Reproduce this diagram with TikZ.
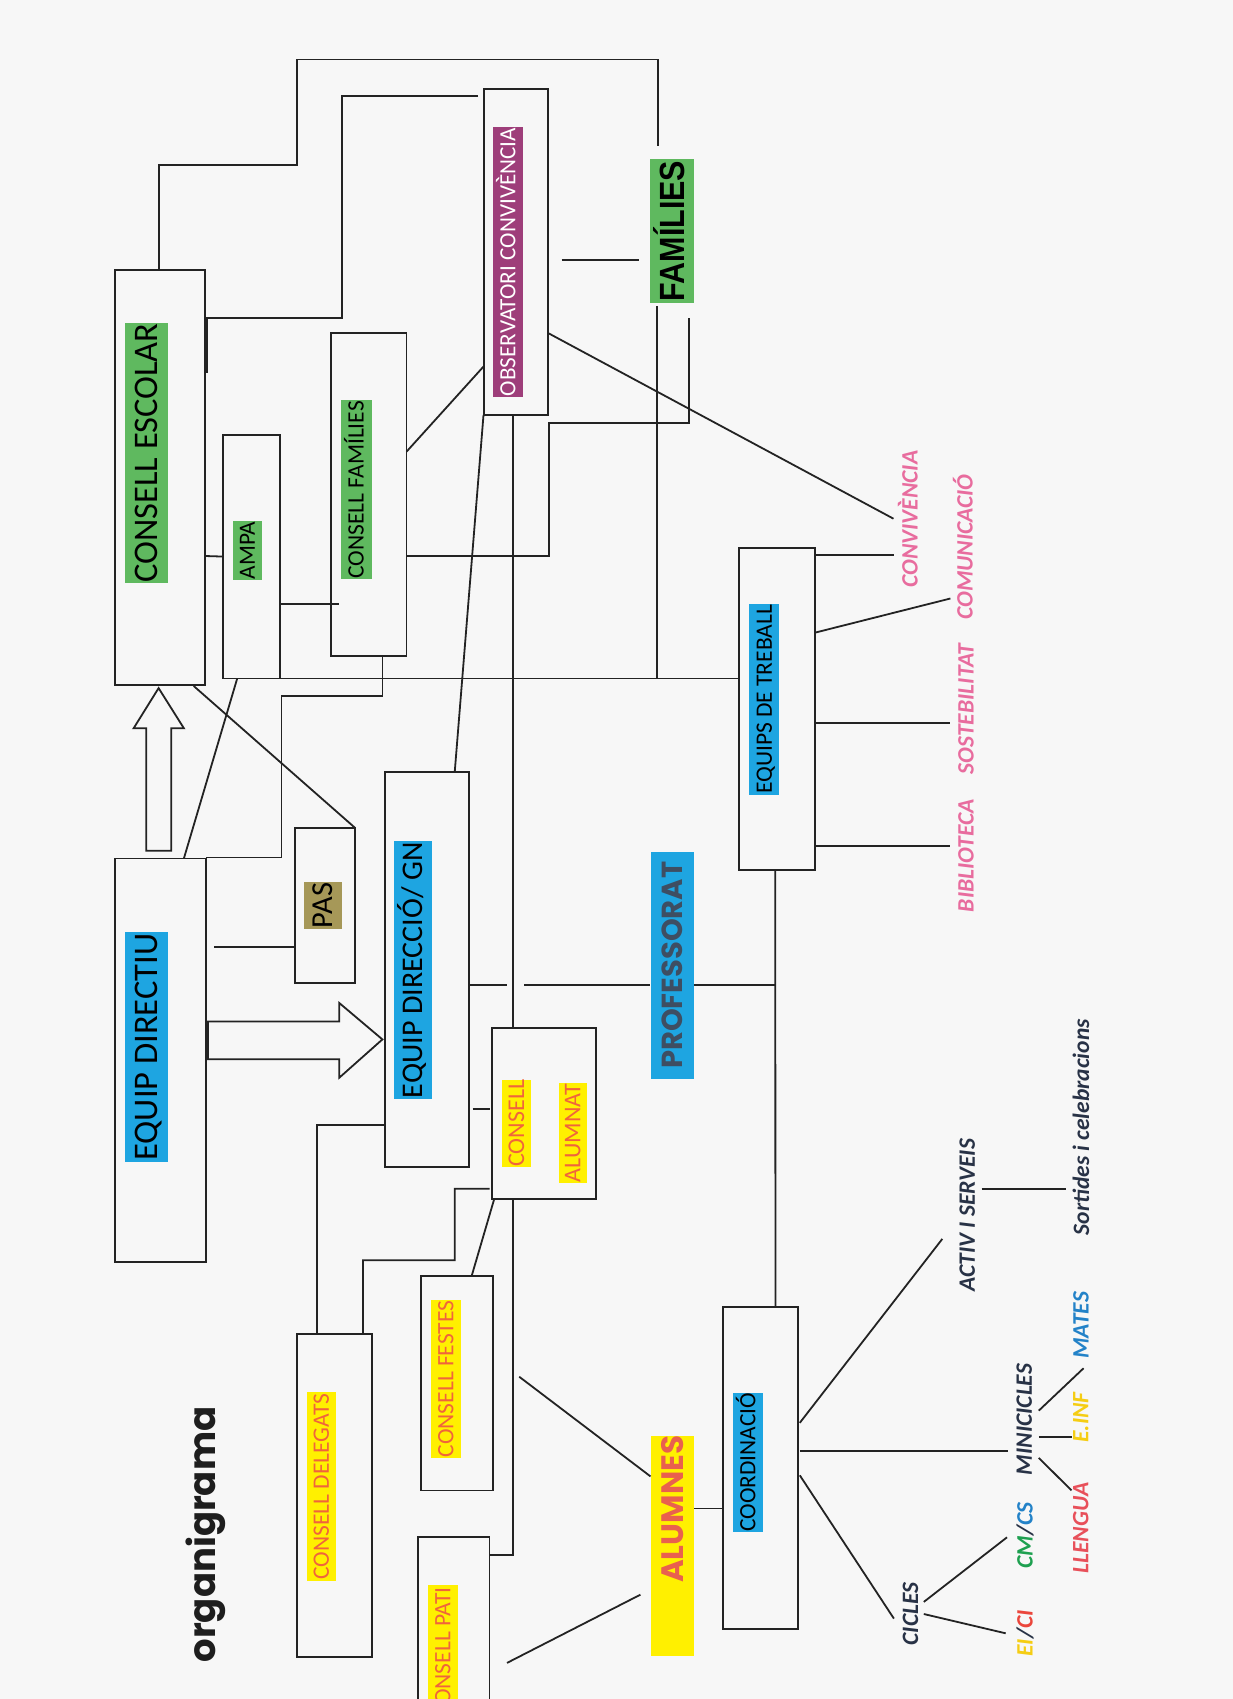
\documentclass[tikz,border=0pt]{standalone}
\usepackage{fontspec}
\setmainfont{Carlito}
\newfontfamily\popfont{Poppins}
\newfontfamily\arialfont{Liberation Sans}
\newcommand\fsz[1]{\fontsize{#1pt}{#1pt}\selectfont}
\definecolor{pagebg}{RGB}{247,247,247}
\definecolor{linec}{RGB}{35,35,35}
\definecolor{hgreen}{RGB}{95,185,95}
\definecolor{hblue}{RGB}{30,165,225}
\definecolor{hpurple}{RGB}{158,62,122}
\definecolor{hyellow}{RGB}{255,240,0}
\definecolor{holive}{RGB}{166,152,88}
\definecolor{orangetext}{RGB}{240,100,60}
\definecolor{alumtext}{RGB}{233,96,78}
\definecolor{proftext}{RGB}{62,78,98}
\definecolor{pinktext}{RGB}{232,108,158}
\definecolor{navytext}{RGB}{40,50,70}
\definecolor{cmgreen}{RGB}{30,160,80}
\definecolor{csblue}{RGB}{35,130,200}
\definecolor{eiyellow}{RGB}{245,205,20}
\definecolor{cired}{RGB}{235,70,60}
\definecolor{llengred}{RGB}{232,80,90}
\definecolor{titlec}{RGB}{30,30,30}
\begin{document}
\begin{tikzpicture}[x=1pt,y=-1pt,
  box/.style={draw=linec, line width=1.8pt, inner sep=0pt, outer sep=0pt},
  conn/.style={draw=linec, line width=1.8pt},
  fatarrow/.style={draw=linec, line width=1.8pt, line join=miter},
  hl/.style={rotate=90, inner xsep=0pt, inner ysep=0pt, outer sep=0pt, text depth=0pt},
  itl/.style={rotate=90, inner sep=0pt, outer sep=0pt, text height=15pt, text depth=0pt, font=\bfseries\itshape\fsz{23.5}}]
\useasboundingbox (0,0) rectangle (1233,1699);
\clip (0,0) rectangle (1233,1699);
\fill[pagebg] (0,0) rectangle (1233,1699);

% boxes
\node[box, minimum width=90pt, minimum height=415pt] (ce) at (160,477.5) {};
\node[box, minimum width=64pt, minimum height=326pt] (obs) at (516,252) {};
\node[box, minimum width=75.5pt, minimum height=322.6pt] (cf) at (368.75,494.3) {};
\node[box, minimum width=57pt, minimum height=243.9pt] (ampa) at (251.1,556.55) {};
\node[box, minimum width=75.9pt, minimum height=322.2pt] (eqt) at (777.25,708.8) {};
\node[box, minimum width=90.6pt, minimum height=403.8pt] (ed) at (160.3,1060.3) {};
\node[box, minimum width=60.4pt, minimum height=155pt] (pas) at (324.8,905.3) {};
\node[box, minimum width=84.6pt, minimum height=394.6pt] (edgn) at (427,969.6) {};
\node[box, minimum width=103.6pt, minimum height=170.7pt] (ca) at (544.1,1113.35) {};
\node[box, minimum width=75pt, minimum height=322.4pt] (cd) at (334.5,1495.4) {};
\node[box, minimum width=72pt, minimum height=214.6pt] (cfe) at (457.1,1383.1) {};
\node[box, minimum width=71.5pt, minimum height=182.7pt] (cp) at (453.75,1628.65) {};
\node[box, minimum width=74.7pt, minimum height=321.7pt] (coord) at (760.45,1468.05) {};

% highlighted labels
\node[hl, fill=hgreen, minimum height=43.4pt, text height=21.8pt, font=\fsz{34.5}] (ceL) at (146.3,453) {\makebox[260pt]{CONSELL ESCOLAR}};
\node[hl, fill=hblue, minimum height=43pt, text height=21.8pt, font=\fsz{34.5}] (edL) at (146.5,1047) {\makebox[229.3pt]{EQUIP DIRECTIU}};
\node[hl, fill=hpurple, text=white, minimum height=30.5pt, text height=14.7pt, font=\fsz{23.2}] (obsL) at (508,262) {\makebox[270.7pt]{OBSERVATORI CONVIVÈNCIA}};
\node[hl, fill=hgreen, minimum height=43.2pt, text height=25pt, font=\arialfont\bfseries\fsz{35}] (famL) at (672,231) {\makebox[143.2pt]{\scalebox{0.87}[1]{FAMÍLIES}}};
\node[hl, fill=hgreen, minimum height=31pt, text height=14.9pt, font=\fsz{23.5}] (cfL) at (356.25,489.7) {\makebox[179.4pt]{CONSELL FAMÍLIES}};
\node[hl, fill=hgreen, minimum height=29pt, text height=14.7pt, font=\fsz{23.3}] (ampaL) at (247.5,550.6) {\makebox[59.2pt]{AMPA}};
\node[hl, fill=holive, minimum height=38.3pt, text height=19.3pt, font=\fsz{30.5}] (pasL) at (322.85,905.45) {\makebox[47.5pt]{PAS}};
\node[hl, fill=hblue, minimum height=38pt, text height=19pt, font=\fsz{30}] (edgnL) at (413.2,970) {\makebox[257.5pt]{EQUIP DIRECCIÓ/ GN}};
\node[hl, fill=hblue, text=proftext, minimum height=43.5pt, text height=20.5pt, font=\popfont\bfseries\fsz{29}] (profL) at (672.25,965.2) {\makebox[226.6pt]{PROFESSORAT}};
\node[hl, fill=hblue, minimum height=29.8pt, text height=14.9pt, font=\fsz{23.5}] (eqtL) at (764.3,699.4) {\makebox[190.2pt]{EQUIPS DE TREBALL}};
\node[hl, fill=hyellow, text=orangetext, minimum height=29pt, text height=15.2pt, font=\fsz{24}] (caL1) at (516.5,1123.25) {\makebox[87.3pt]{CONSELL}};
\node[hl, fill=hyellow, text=orangetext, minimum height=28.1pt, text height=15.2pt, font=\fsz{24}] (caL2) at (572.75,1132.75) {\makebox[100.1pt]{ALUMNAT}};
\node[hl, fill=hyellow, text=orangetext, minimum height=29.2pt, text height=14.9pt, font=\fsz{23.5}] (cdL) at (321.4,1486.5) {\makebox[189pt]{CONSELL DELEGATS}};
\node[hl, fill=hyellow, text=orangetext, minimum height=29.6pt, text height=14.9pt, font=\fsz{23.5}] (cfeL) at (445.8,1378.85) {\makebox[158.1pt]{CONSELL FESTES}};
\node[hl, fill=hyellow, text=orangetext, minimum height=29.3pt, text height=14.9pt, font=\fsz{23.5}] (cpL) at (442.85,1652.1) {\makebox[135pt]{CONSELL PATI}};
\node[hl, fill=hblue, minimum height=29.5pt, text height=14.8pt, font=\fsz{23.4}] (coordL) at (747.95,1462.15) {\makebox[139.3pt]{COORDINACIÓ}};
\node[hl, fill=hyellow, text=alumtext, minimum height=42.7pt, text height=21.7pt, font=\popfont\bfseries\fsz{31}] (alum) at (672.65,1545.65) {\makebox[219.7pt][r]{ALUMNES}};

% title
\node[rotate=90, inner sep=0pt, text height=20.5pt, text depth=0pt, text=titlec, font=\popfont\bfseries\fsz{37}] (title) at (205.6,1534.5) {organigrama};

% plain italic labels
\node[itl, text=pinktext] (conv) at (910,519) {CONVIVÈNCIA};
\node[itl, text=pinktext] (comu) at (965,547) {COMUNICACIÓ};
\node[itl, text=pinktext] (sost) at (966,709) {SOSTEBILITAT};
\node[itl, text=pinktext] (bib) at (966,855.5) {BIBLIOTECA};
\node[itl, text=navytext] (activ) at (967.4,1215.1) {ACTIV I SERVEIS};
\node[itl, text=navytext, text height=16.5pt] (sort) at (1080.8,1127.25) {Sortides i celebracions};
\node[itl, text=navytext] (mini) at (1024.3,1419.5) {MINICICLES};
\node[itl, text=csblue] (mates) at (1081.2,1325.3) {MATES};
\node[itl, text=eiyellow] (einf) at (1080.8,1417.5) {E.INF};
\node[itl, text=llengred] (lleng) at (1080.8,1528.1) {LLENGUA};
\node[itl, text=navytext] (cicles) at (910.5,1614) {CICLES};
\node[itl, text=navytext] (cmcs) at (1025,1535.5) {{\color{cmgreen}CM}/{\color{csblue}CS}};
\node[itl, text=navytext] (eici) at (1025,1633.3) {{\color{eiyellow}EI}/{\color{cired}CI}};

% helper coordinates
\coordinate (j1) at (657,678.5);
\coordinate (jp) at (775.3,984.7);
\coordinate (a1) at (519.2,1376.7);
\coordinate (a2) at (507,1662.9);

% connectors
\draw[conn] ([xshift=-1pt]ce.north) -- (159,165) -- (297,165) -- (297,59.6) -- (657.7,59.6) -- ([xshift=-14.3pt,yshift=85pt]famL.center);
\draw[conn] ([xshift=-6pt,yshift=156.3pt]obs.west) -- (341.6,95.7) -- (341.6,318) -- ([yshift=159.5pt]ce.east);
\draw[linec, line width=3.5pt] ([xshift=1pt,yshift=159.5pt]ce.east) -- ([xshift=1pt,yshift=104.5pt]ce.east);
\draw[conn] ([xshift=13.5pt,yshift=-7.6pt]obs.east) -- ([xshift=-33pt,yshift=-28.6pt]famL.center);
\draw[conn] ([yshift=-81pt]obs.east) -- ([xshift=-16.5pt,yshift=0.3pt]conv.center);
\draw[conn] ([yshift=-114pt]obs.west) -- ([yshift=42.6pt]cf.east);
\draw[conn] ([yshift=-61.7pt]cf.east) -- (549,556) -- (549,423) -- (689,423) -- ([xshift=17pt,yshift=-87pt]famL.center);
\draw[conn] ([xshift=-15pt,yshift=-75pt]famL.center) -- (j1);
\draw[conn] (ampa.south east) -- ([yshift=30.3pt]eqt.west);
\draw[conn] ([xshift=-32.5pt]obs.south) -- ([xshift=27.7pt]edgn.north);
\draw[conn] ([xshift=-3.2pt]obs.south) -- ([xshift=-31.3pt]ca.north);
\draw[conn] ([yshift=-47.45pt]ampa.east) -- ([xshift=8pt,yshift=-109.7pt]cf.west);
\draw[conn] ([yshift=-78.5pt]ce.east) -- (ampa.west);
\draw[conn] ([xshift=13.65pt]cf.south) -- (382.4,696.1) -- (281.5,696.1) -- (281.5,857.5) -- ([yshift=0.9pt]ed.north east);
\draw[conn] ([xshift=23.6pt]ed.north) -- ([xshift=-13.9pt]ampa.south);
\draw[conn] ([xshift=33.7pt,yshift=-1pt]ce.south) -- (pas.north east);
% hollow arrows
\draw[fatarrow] (146.3,850.8) -- (146.3,728.3) -- (133.6,728.3) -- (158.6,688.1) -- (183.9,728.3) -- (171.2,728.3) -- (171.2,850.8) -- cycle;
\draw[fatarrow] (205.6,1021.4) -- (339.3,1021.4) -- (339.3,1003) -- (382.4,1039.4) -- (339.3,1077.7) -- (339.3,1059.3) -- (205.6,1059.3);
\draw[linec, line width=3pt] (207,1021.4) -- (207,1059.3);
\draw[conn] ([xshift=8.4pt,yshift=113.5pt]ed.east) -- ([yshift=-41.5pt]pas.west);
\draw[conn] ([yshift=-15.1pt]edgn.east) -- ++(37.7,0);
\draw[conn] ([xshift=-148.25pt,yshift=-19.5pt]profL.center) -- ([xshift=-22.25pt,yshift=-19.5pt]profL.center);
\draw[conn] ([xshift=21.75pt,yshift=-19.5pt]profL.center) -- (jp);
\draw[conn] ([xshift=3.2pt,yshift=-139.4pt]edgn.east) -- ([xshift=-2.8pt,yshift=4.35pt]ca.west);
\draw[conn] ([yshift=-155pt]edgn.west) -- (316.7,1124.6) -- ([xshift=-17.8pt]cd.north);
\draw[conn] ([xshift=28.5pt]cd.north) -- (363,1260.3) -- (454.7,1260.3) -- (454.7,1188.7) -- ([xshift=-2.8pt,yshift=-75.35pt]ca.west);
\draw[conn] ([xshift=-49.8pt]ca.south) -- ([xshift=14.6pt]cfe.north);
\draw[conn] ([xshift=-30.9pt]ca.south) |- ([yshift=73.65pt]cp.east);
\draw[conn] (a1) -- ([xshift=-22.15pt,yshift=69.25pt]alum.center);
\draw[conn] (a2) -- ([xshift=-32.25pt,yshift=-49pt]alum.center);
\draw[conn] ([xshift=21.35pt,yshift=37.15pt]alum.center) -- ([yshift=-40.45pt]coord.west);
\draw[conn] ([xshift=2pt,yshift=45.25pt]coord.east) -- ([xshift=-25.1pt,yshift=-23.8pt]activ.center);
\draw[conn] ([xshift=14.1pt,yshift=26.1pt]activ.center) -- ([xshift=-14.5pt,yshift=-61.75pt]sort.center);
\draw[conn] ([xshift=2pt,yshift=16.75pt]coord.east) -- ([xshift=-16.6pt,yshift=-31.8pt]mini.center);
\draw[conn] ([xshift=14.5pt,yshift=8.9pt]mini.center) -- ([xshift=2.4pt,yshift=-42.9pt]mates.center);
\draw[conn] ([xshift=14.5pt,yshift=-17.4pt]mini.center) -- ([xshift=-8.5pt,yshift=-19.4pt]einf.center);
\draw[conn] ([xshift=14.5pt,yshift=-38.4pt]mini.center) -- ([xshift=-9.3pt,yshift=37.7pt]lleng.center);
\draw[conn] ([xshift=2pt,yshift=-7.25pt]coord.east) -- ([xshift=-16.6pt,yshift=-4.6pt]cicles.center);
\draw[conn] ([xshift=13.3pt,yshift=12.1pt]cicles.center) -- ([xshift=-18pt,yshift=-1.8pt]cmcs.center);
\draw[conn] ([xshift=13.3pt]cicles.center) -- ([xshift=-19.3pt]eici.center);
\draw[conn] ([yshift=153.5pt]eqt.east) -- ([xshift=-16.5pt,yshift=-36.3pt]conv.center);
\draw[conn] ([yshift=76.2pt]eqt.east) -- ([xshift=-14.6pt,yshift=-51.5pt]comu.center);
\draw[conn] ([yshift=-14.2pt]eqt.east) -- ([xshift=-16pt,yshift=-14pt]sost.center);
\draw[conn] ([yshift=-137.2pt]eqt.east) -- ([xshift=-16pt,yshift=9.5pt]bib.center);
\draw[conn] ([xshift=-2pt]eqt.south) -- ([xshift=15pt]coord.north);
\end{tikzpicture}
\end{document}
